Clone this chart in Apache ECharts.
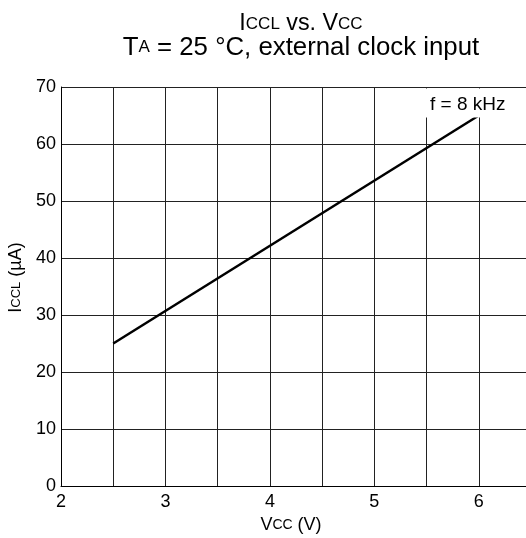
<!DOCTYPE html>
<html>
<head>
<meta charset="utf-8">
<script src="https://cdn.jsdelivr.net/npm/echarts@6/dist/echarts.min.js"></script>
<style>
  html, body { margin: 0; padding: 0; background: #fff; }
  #chart { width: 526px; height: 538px; }
</style>
</head>
<body>
<div id="chart"></div>
<script>
// Supply current vs. supply voltage, external clock input
const vccVolts = [2.5, 6];
const iccMicroAmps = [25, 65];
const xTicks = [2, 3, 4, 5, 6];
const freqLabel = 'f = 8 kHz';

const FONT = '"Liberation Sans", Arial, Helvetica, sans-serif';

const chart = echarts.init(document.getElementById('chart'), null, { renderer: 'canvas' });

const lineData = vccVolts.map((v, i) => {
  const pt = { value: [v, iccMicroAmps[i]] };
  if (i === vccVolts.length - 1) {
    pt.label = {
      show: true,
      formatter: freqLabel,
      position: 'top',
      distance: 0,
      offset: [-11, 2],
      color: '#000',
      fontSize: 19,
      lineHeight: 19,
      fontFamily: FONT,
      backgroundColor: '#fff',
      padding: [7, 5, 3, 5]
    };
  }
  return pt;
});

chart.setOption({
  animation: false,
  backgroundColor: '#fff',
  title: {
    text: '{m|I}{s|CCL}{m| vs. V}{s|CC}\n{b|T}{bs|A}{b| = 25 °C, external clock input}',
    left: 296,
    textAlign: 'center',
    top: 6,
    textStyle: {
      fontFamily: FONT,
      fontWeight: 'normal',
      rich: {
        m: { fontSize: 23.3, color: '#000', fontFamily: FONT, fontWeight: 'normal', lineHeight: 26 },
        s: { fontSize: 17, color: '#000', fontFamily: FONT, fontWeight: 'normal', lineHeight: 26 },
        b: { fontSize: 25.8, color: '#000', fontFamily: FONT, fontWeight: 'normal', lineHeight: 21 },
        bs: { fontSize: 17, color: '#000', fontFamily: FONT, fontWeight: 'normal', lineHeight: 21 }
      }
    }
  },
  grid: { left: 61, width: 470, top: 87, bottom: 52, containLabel: false, outerBoundsMode: 'none' },
  xAxis: {
    type: 'value',
    min: 2,
    max: 6.5,
    interval: 0.5,
    name: '{m|V}{s|CC}{m| (V)}',
    nameLocation: 'middle',
    nameGap: 29,
    nameTextStyle: {
      padding: [0, 10, 0, 0],
      rich: {
        m: { fontSize: 18, color: '#000', fontFamily: FONT },
        s: { fontSize: 14, color: '#000', fontFamily: FONT }
      }
    },
    axisLine: { show: true, lineStyle: { color: '#000', width: 1 } },
    axisTick: { show: false },
    axisLabel: {
      color: '#000',
      fontSize: 18,
      fontFamily: FONT,
      margin: 7,
      formatter: v => (xTicks.includes(v) ? String(v) : '')
    },
    splitLine: { show: true, lineStyle: { color: '#222', width: 1 } }
  },
  yAxis: {
    type: 'value',
    min: 0,
    max: 70,
    interval: 10,
    name: '{m|I}{s|CCL}{m| (µA)}',
    nameLocation: 'middle',
    nameGap: 26,
    nameRotate: 90,
    nameTextStyle: {
      padding: [0, 0, 0, 18],
      rich: {
        m: { fontSize: 18, color: '#000', fontFamily: FONT },
        s: { fontSize: 13, color: '#000', fontFamily: FONT }
      }
    },
    axisLine: { show: true, lineStyle: { color: '#000', width: 1 } },
    axisTick: { show: false },
    axisLabel: { color: '#000', fontSize: 18, fontFamily: FONT, margin: 5 },
    splitLine: { show: true, lineStyle: { color: '#222', width: 1 } }
  },
  series: [{
    type: 'line',
    data: lineData,
    symbol: 'circle',
    symbolSize: 0,
    showSymbol: true,
    lineStyle: { color: '#000', width: 2.5 },
    z: 3
  }]
});
</script>
</body>
</html>
